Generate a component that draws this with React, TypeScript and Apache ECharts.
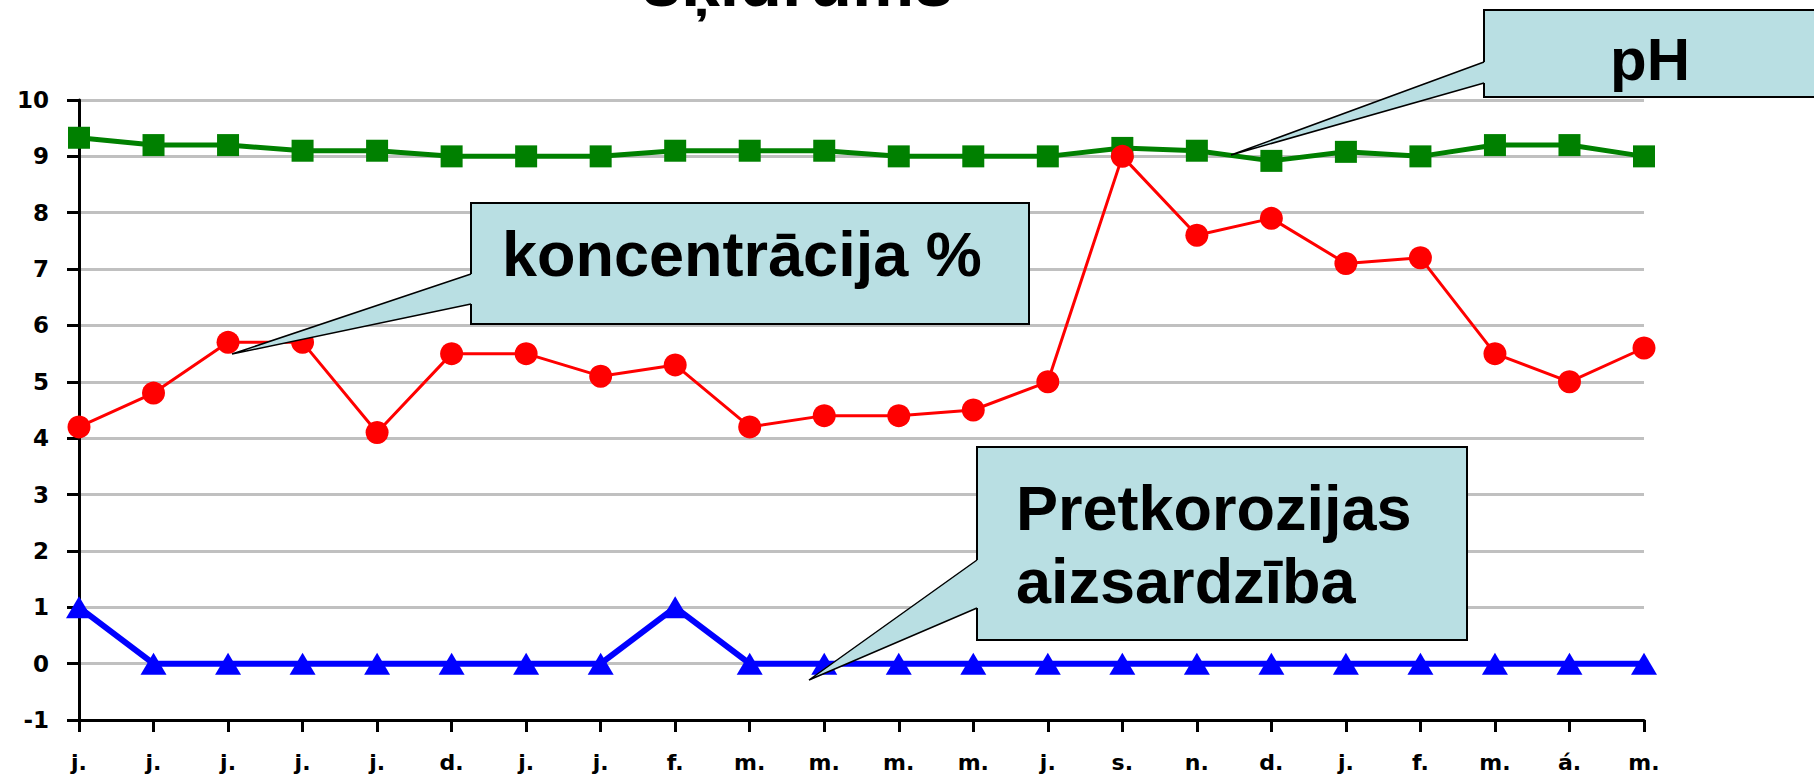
import React, { useEffect, useRef } from "react";
import * as echarts from "echarts";

const categories = ["j.", "j.", "j.", "j.", "j.", "d.", "j.", "j.", "f.", "m.", "m.", "m.", "m.", "j.", "s.", "n.", "d.", "j.", "f.", "m.", "á.", "m."];
const phValues = [9.33, 9.2, 9.2, 9.1, 9.1, 9.0, 9.0, 9.0, 9.1, 9.1, 9.1, 9.0, 9.0, 9.0, 9.15, 9.1, 8.92, 9.08, 9.0, 9.2, 9.2, 9.0];
const concentrationValues = [4.2, 4.8, 5.7, 5.7, 4.1, 5.5, 5.5, 5.1, 5.3, 4.2, 4.4, 4.4, 4.5, 5.0, 9.0, 7.6, 7.9, 7.1, 7.2, 5.5, 5.0, 5.6];
const corrosionValues = [1, 0, 0, 0, 0, 0, 0, 0, 1, 0, 0, 0, 0, 0, 0, 0, 0, 0, 0, 0, 0, 0];
const yMin = -1;
const yMax = 10;
const yStep = 1;

const titleText = "šķidrums";
const phLabel = "pH";
const concentrationLabel = "koncentrācija %";
const corrosionLabelLines = ["Pretkorozijas", "aizsardzība"];

const FONT = "'Liberation Sans', Arial, sans-serif";
const AXIS_FONT = "'DejaVu Sans', Verdana, sans-serif";
const CALLOUT_FILL = "#b9dfe3";

function callout(
  box: { x: number; y: number; w: number; h: number },
  tip: [number, number],
  baseY: [number, number],
  texts: { text: string; x: number; y: number; size: number; align?: string }[]
) {
  const bx = box.x;
  const children: any[] = [
    {
      type: "rect",
      z: 100,
      shape: { x: box.x, y: box.y, width: box.w, height: box.h },
      style: { fill: CALLOUT_FILL, stroke: "#000", lineWidth: 2 },
    },
    {
      type: "polygon",
      z: 101,
      shape: { points: [tip, [bx, baseY[0]], [bx + 2, baseY[0]], [bx + 2, baseY[1]], [bx, baseY[1]]] },
      style: { fill: CALLOUT_FILL, stroke: null },
    },
    {
      type: "polyline",
      z: 102,
      shape: { points: [[bx, baseY[0]], tip, [bx, baseY[1]]] },
      style: { stroke: "#000", lineWidth: 1.5, fill: null },
    },
  ];
  texts.forEach((t) => {
    children.push({
      type: "text",
      z: 103,
      x: t.x,
      y: t.y,
      style: {
        text: t.text,
        fill: "#000",
        font: `bold ${t.size}px ${FONT}`,
        align: t.align || "left",
        verticalAlign: "middle",
      },
    });
  });
  return children;
}

export default function App() {
  const ref = useRef<HTMLDivElement>(null);
  useEffect(() => {
    document.body.style.margin = "0";
    const chart = echarts.init(ref.current!, null, { renderer: "svg" });
    const graphics: any[] = [
      {
        type: "text",
        z: 100,
        x: 642,
        y: 17,
        style: {
          text: titleText,
          fill: "#000",
          font: `bold 70px ${FONT}`,
          align: "left",
          verticalAlign: "bottom",
        },
      },
      ...callout({ x: 471, y: 203, w: 558, h: 121 }, [232, 354], [274, 304], [
        { text: concentrationLabel, x: 502, y: 254, size: 63 },
      ]),
      ...callout({ x: 1484, y: 10, w: 360, h: 87 }, [1231, 155], [62, 83], [
        { text: phLabel, x: 1650, y: 59, size: 60, align: "center" },
      ]),
      ...callout({ x: 977, y: 447, w: 490, h: 193 }, [809, 680], [560, 608], [
        { text: corrosionLabelLines[0], x: 1016, y: 508, size: 63 },
        { text: corrosionLabelLines[1], x: 1016, y: 581, size: 63 },
      ]),
    ];
    chart.setOption({
      animation: false,
      backgroundColor: "#fff",
      grid: { left: 79, right: 170, top: 100, bottom: 56, containLabel: false },
      xAxis: {
        type: "category",
        data: categories,
        boundaryGap: false,
        axisLine: { onZero: false, lineStyle: { color: "#000", width: 3 } },
        axisTick: { show: true, length: 12, inside: false, interval: 0, lineStyle: { color: "#000", width: 3 } },
        axisLabel: {
          interval: 0,
          margin: 31,
          color: "#000",
          fontFamily: AXIS_FONT,
          fontWeight: "bold",
          fontSize: 22,
        },
        splitLine: { show: false },
      },
      yAxis: {
        type: "value",
        min: yMin,
        max: yMax,
        interval: yStep,
        axisLine: { show: true, lineStyle: { color: "#000", width: 3 } },
        axisTick: { show: true, length: 12, lineStyle: { color: "#000", width: 3 } },
        axisLabel: {
          margin: 30,
          color: "#000",
          fontFamily: AXIS_FONT,
          fontWeight: "bold",
          fontSize: 23,
        },
        splitLine: { show: true, lineStyle: { color: "#c0c0c0", width: 3 } },
      },
      series: [
        {
          name: "Pretkorozijas aizsardzība",
          type: "line",
          data: corrosionValues,
          symbol: "triangle",
          symbolSize: [26, 22],
          lineStyle: { color: "#0000ff", width: 6 },
          itemStyle: { color: "#0000ff" },
          z: 3,
        },
        {
          name: "pH",
          type: "line",
          data: phValues,
          symbol: "rect",
          symbolSize: 22,
          lineStyle: { color: "#008000", width: 5 },
          itemStyle: { color: "#008000" },
          z: 4,
        },
        {
          name: "koncentrācija %",
          type: "line",
          data: concentrationValues,
          symbol: "circle",
          symbolSize: 23,
          lineStyle: { color: "#ff0000", width: 3 },
          itemStyle: { color: "#ff0000" },
          z: 5,
        },
      ],
      graphic: { elements: graphics },
    });
    return () => chart.dispose();
  }, []);
  return (
    <div
      ref={ref}
      style={{ position: "fixed", left: 0, top: 0, width: 1814, height: 776 }}
    />
  );
}
